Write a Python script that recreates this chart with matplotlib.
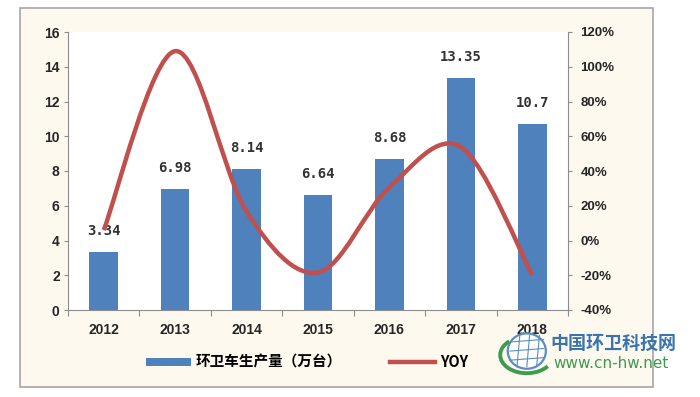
import numpy as np
import matplotlib
matplotlib.use("Agg")
import matplotlib.pyplot as plt
from matplotlib.path import Path
from matplotlib.patches import PathPatch, Rectangle, Patch, Circle, Arc
from matplotlib.lines import Line2D

plt.rcParams['font.family'] = ['Liberation Sans', 'Noto Sans CJK SC', 'DejaVu Sans']

years = ['2012', '2013', '2014', '2015', '2016', '2017', '2018']
output = [3.34, 6.98, 8.14, 6.64, 8.68, 13.35, 10.7]
output_labels = ['3.34', '6.98', '8.14', '6.64', '8.68', '13.35', '10.7']
yoy = [6.0, 109.0, 16.6, -18.4, 30.7, 53.8, -19.9]

bar_color = '#4F81BD'
line_color = '#C0504D'
grey = '#8C8C8C'
text_color = '#262626'

fig = plt.figure(figsize=(7, 3.97), dpi=100)
fig.patch.set_facecolor('white')

# cream frame around the whole chart
fig.patches.append(Rectangle((20 / 700, 10 / 397), 633 / 700, 379 / 397,
                             transform=fig.transFigure, facecolor='#FDF9EF',
                             edgecolor='#A6A6A6', lw=1.2, zorder=-5))

ax = fig.add_axes([68 / 700, 87 / 397, 500 / 700, 278 / 397])
ax.set_facecolor('white')
x = np.arange(len(years))
bars = ax.bar(x, output, width=0.4, color=bar_color, zorder=2)
for xi, v, lab in zip(x, output, output_labels):
    ax.annotate(lab, (xi, v), xytext=(0, 10), textcoords='offset points',
                ha='center', va='bottom', fontsize=10, color='#333333',
                family='DejaVu Sans Mono', fontweight='bold')

ax.set_xlim(-0.5, len(years) - 0.5)
ax.set_ylim(0, 16)
ax.set_yticks(range(0, 17, 2))
ax.set_xticks(np.arange(-0.5, len(years), 1))
ax.set_xticklabels([])
ax.set_xticks(x, minor=True)
ax.set_xticklabels(years, minor=True)
ax.tick_params(axis='x', which='major', length=4, color=grey, direction='out')
ax.tick_params(axis='x', which='minor', length=0, pad=9, labelsize=10,
               labelcolor=text_color)
ax.tick_params(axis='y', length=3, color=grey, pad=3, labelsize=10,
               labelcolor=text_color)
for lab in ax.get_xticklabels(minor=True) + ax.get_yticklabels():
    lab.set_fontweight('bold')
for s in ['top', 'right']:
    ax.spines[s].set_visible(False)
for s in ['left', 'bottom']:
    ax.spines[s].set_color(grey)

ax2 = ax.twinx()
ax2.set_ylim(-40, 120)
ax2.set_yticks(range(-40, 121, 20))
ax2.set_yticklabels([f'{t}%' for t in range(-40, 121, 20)])
ax2.tick_params(axis='y', length=3, color=grey, pad=6, labelsize=9.5,
                labelcolor=text_color)
for lab in ax2.get_yticklabels():
    lab.set_fontweight('bold')
for s in ['top', 'left', 'bottom']:
    ax2.spines[s].set_visible(False)
ax2.spines['right'].set_color(grey)

# smoothed YOY line (bezier through the data points, Excel style)
pts = np.column_stack([x, yoy]).astype(float)
ext = np.vstack([pts[0], pts, pts[-1]])
verts = [tuple(pts[0])]
codes = [Path.MOVETO]
for i in range(len(pts) - 1):
    c1 = pts[i] + (ext[i + 2] - ext[i]) / 6
    c2 = pts[i + 1] - (ext[i + 3] - ext[i + 1]) / 6
    verts += [tuple(c1), tuple(c2), tuple(pts[i + 1])]
    codes += [Path.CURVE4] * 3
ax2.add_patch(PathPatch(Path(verts, codes), fill=False, edgecolor=line_color,
                        lw=3.2, capstyle='butt', zorder=3))

handles = [Patch(facecolor=bar_color, edgecolor='none'),
           Line2D([], [], color=line_color, lw=3.2)]
fig.legend(handles, ['环卫车生产量（万台）', 'YOY'], ncol=2, frameon=False,
           loc='center', bbox_to_anchor=(307 / 700, 1 - 362 / 397),
           handlelength=3.1, handleheight=0.45,
           columnspacing=3.3, handletextpad=0.3,
           prop={'family': ['Noto Sans CJK SC', 'DejaVu Sans'], 'weight': 'bold', 'size': 10.5})

# watermark
fig.text(613 / 700, 1 - 343 / 397, '中国环卫科技网', ha='center', va='center',
         fontsize=13, fontweight='bold', color='#3A74AE',
         family=['Noto Sans CJK SC'])
fig.text(611 / 700, 1 - 364 / 397, 'www.cn-hw.net', ha='center', va='center',
         fontsize=11, color='#3E9B4F', family='DejaVu Sans')
lax = fig.add_axes([496 / 700, 1 - 381 / 397, 56 / 700, 52 / 397])
lax.set_xlim(-1, 1)
lax.set_ylim(-1, 1)
lax.axis('off')
lax.add_patch(Circle((0.1, 0.15), 0.68, facecolor='white', edgecolor='#5B8DC0', lw=1.6))
for yy in (-0.2, 0.15, 0.5):
    lax.plot([-0.5, 0.7], [yy, yy + 0.1], color='#5B8DC0', lw=0.8)
for xx in (-0.25, 0.1, 0.45):
    lax.plot([xx, xx + 0.1], [-0.45, 0.75], color='#5B8DC0', lw=0.8)
lax.add_patch(Arc((0.1, 0.0), 1.9, 1.4, theta1=140, theta2=330, color='#3E9B4F', lw=2.8))

fig.savefig('out.png', dpi=100, facecolor=fig.get_facecolor())
